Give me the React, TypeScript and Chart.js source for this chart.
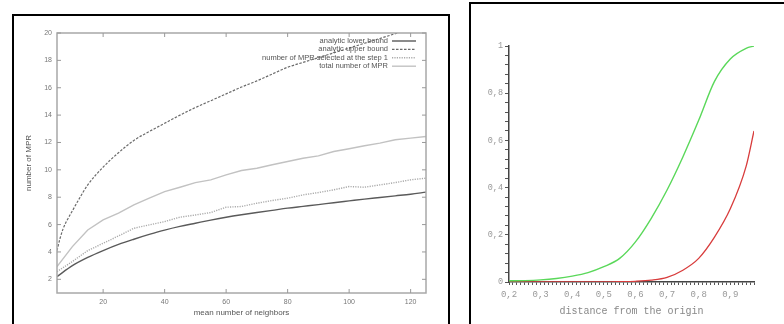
import React, { useEffect, useRef } from "react";
import { Chart, registerables } from "chart.js";
Chart.register(...registerables);

// ---------- Left chart data ----------
const neighbors = [5, 10, 15, 20, 25, 30, 35, 40, 45, 50, 55, 60, 65, 70, 75, 80, 85, 90, 95, 100, 105, 110, 115, 120, 125];
const lowerBound = [2.2, 3.0, 3.6, 4.1, 4.55, 4.93, 5.28, 5.6, 5.87, 6.1, 6.33, 6.54, 6.72, 6.88, 7.04, 7.2, 7.33, 7.46, 7.6, 7.73, 7.86, 7.98, 8.1, 8.22, 8.37];
const upperNeighbors = [5, 6, 7, 8, 10, 12, 15, 20, 25, 30, 35, 40, 45, 50, 55, 60, 65, 70, 75, 80, 85, 90, 95, 100, 105, 110, 115, 120, 125];
const upperBound = [4.1, 5.0, 5.7, 6.2, 7.0, 7.8, 8.9, 10.2, 11.25, 12.15, 12.8, 13.4, 14.0, 14.55, 15.05, 15.55, 16.05, 16.5, 17.0, 17.5, 17.85, 18.2, 18.55, 18.9, 19.25, 19.6, 19.95, 20.3, 20.6];
const step1Mpr = [2.56, 3.3, 4.1, 4.63, 5.17, 5.73, 5.98, 6.22, 6.54, 6.7, 6.88, 7.27, 7.32, 7.56, 7.76, 7.93, 8.17, 8.34, 8.54, 8.78, 8.73, 8.9, 9.07, 9.27, 9.39];
const totalMpr = [2.93, 4.39, 5.61, 6.34, 6.83, 7.44, 7.93, 8.41, 8.73, 9.07, 9.27, 9.63, 9.95, 10.12, 10.37, 10.61, 10.85, 11.02, 11.34, 11.54, 11.76, 11.95, 12.2, 12.32, 12.44];
const leftXTicks = [20, 40, 60, 80, 100, 120];
const leftYTicks = [2, 4, 6, 8, 10, 12, 14, 16, 18, 20];
const leftLabels = ["analytic lower bound", "analytic upper bound", "number of MPR selected at the step 1", "total number of MPR"];

// ---------- Right chart data ----------
const distance = [0.2, 0.25, 0.3, 0.35, 0.4, 0.45, 0.5, 0.55, 0.6, 0.65, 0.7, 0.75, 0.8, 0.85, 0.9, 0.95, 0.975];
const greenCurve = [0.005, 0.006, 0.009, 0.015, 0.025, 0.04, 0.065, 0.1, 0.17, 0.27, 0.39, 0.53, 0.685, 0.85, 0.945, 0.99, 1.0];
const redCurve = [0, 0, 0, 0, 0, 0, 0, 0.001, 0.003, 0.008, 0.02, 0.05, 0.1, 0.19, 0.31, 0.49, 0.64];
const rightXMajor = [0.2, 0.3, 0.4, 0.5, 0.6, 0.7, 0.8, 0.9];
const rightXLabels = ["0,2", "0,3", "0,4", "0,5", "0,6", "0,7", "0,8", "0,9"];
const rightYMajor = [0, 0.2, 0.4, 0.6, 0.8, 1];
const rightYLabels = ["0", "0,2", "0,4", "0,6", "0,8", "1"];
const rightXMinorStep = 0.0125;
const rightYMinorStep = 0.04;

const pts = (xs: number[], ys: number[]) => xs.map((x, i) => ({ x, y: ys[i] }));

const frameTicksPlugin = {
  id: "frameTicks",
  afterDatasetsDraw(chart: any) {
    const { ctx, chartArea: a, scales } = chart;
    ctx.save();
    ctx.strokeStyle = "#a8a8a8";
    ctx.lineWidth = 1.5;
    ctx.strokeRect(a.left, a.top, a.right - a.left, a.bottom - a.top);
    ctx.lineWidth = 1;
    ctx.strokeStyle = "#999";
    const L = 4;
    ctx.beginPath();
    scales.x.ticks.forEach((t: any) => {
      const px = scales.x.getPixelForValue(t.value);
      ctx.moveTo(px, a.bottom); ctx.lineTo(px, a.bottom - L);
      ctx.moveTo(px, a.top); ctx.lineTo(px, a.top + L);
    });
    scales.y.ticks.forEach((t: any) => {
      const py = scales.y.getPixelForValue(t.value);
      ctx.moveTo(a.left, py); ctx.lineTo(a.left + L, py);
      ctx.moveTo(a.right, py); ctx.lineTo(a.right - L, py);
    });
    ctx.stroke();
    ctx.restore();
  },
  afterDraw(chart: any) {
    const { ctx, chartArea: a } = chart;
    ctx.save();
    ctx.font = "7.5px 'Liberation Sans', Arial, sans-serif";
    ctx.textAlign = "right";
    ctx.textBaseline = "middle";
    chart.data.datasets.forEach((ds: any, i: number) => {
      const y = a.top + 8 + i * 8.4;
      const textRight = a.right - 38;
      ctx.fillStyle = "#555";
      ctx.fillText(ds.label, textRight, y);
      ctx.beginPath();
      ctx.strokeStyle = ds.borderColor;
      ctx.lineWidth = ds.borderWidth;
      ctx.setLineDash(ds.borderDash || []);
      ctx.moveTo(textRight + 4, y);
      ctx.lineTo(textRight + 28, y);
      ctx.stroke();
    });
    ctx.restore();
  },
};

function LeftChart() {
  const ref = useRef<HTMLCanvasElement>(null);
  useEffect(() => {
    const chart = new Chart(ref.current!, {
      type: "line",
      data: {
        datasets: [
          { label: leftLabels[0], data: pts(neighbors, lowerBound), borderColor: "#5a5a5a", borderWidth: 1.4, pointRadius: 0, cubicInterpolationMode: "monotone" },
          { label: leftLabels[1], data: pts(upperNeighbors, upperBound), borderColor: "#6a6a6a", borderWidth: 1.2, borderDash: [2.5, 1.5], pointRadius: 0, cubicInterpolationMode: "monotone" },
          { label: leftLabels[2], data: pts(neighbors, step1Mpr), borderColor: "#aaaaaa", borderWidth: 1.4, borderDash: [1.2, 1.2], pointRadius: 0, tension: 0 },
          { label: leftLabels[3], data: pts(neighbors, totalMpr), borderColor: "#c2c2c2", borderWidth: 1.4, pointRadius: 0, tension: 0 },
        ] as any,
      },
      options: {
        animation: false,
        responsive: false,
        layout: { padding: { top: 17, right: 22, left: 0, bottom: 0 } },
        plugins: { legend: { display: false }, tooltip: { enabled: false } },
        scales: {
          x: {
            type: "linear", min: 5, max: 125,
            afterBuildTicks: (s: any) => { s.ticks = leftXTicks.map((v) => ({ value: v })); },
            afterFit: (s: any) => { s.height = 31; },
            grid: { display: false, drawTicks: false },
            border: { display: false },
            ticks: { padding: 5, color: "#777", font: { family: "'Liberation Sans', Arial", size: 7 }, maxRotation: 0, autoSkip: false },
            title: { display: true, text: "mean number of neighbors", color: "#555", font: { family: "'Liberation Sans', Arial", size: 8 }, padding: { top: 0, bottom: 6 } },
          },
          y: {
            type: "linear", min: 1, max: 20,
            afterBuildTicks: (s: any) => { s.ticks = leftYTicks.map((v) => ({ value: v })); },
            afterFit: (s: any) => { s.width = 43; },
            grid: { display: false, drawTicks: false },
            border: { display: false },
            ticks: { padding: 5, color: "#777", font: { family: "'Liberation Sans', Arial", size: 7 }, autoSkip: false },
            title: { display: true, text: "number of MPR", color: "#555", font: { family: "'Liberation Sans', Arial", size: 8 }, padding: { top: 10, bottom: 0 } },
          },
        },
      } as any,
      plugins: [frameTicksPlugin],
    });
    return () => chart.destroy();
  }, []);
  return <canvas ref={ref} width={434} height={308} style={{ position: "absolute", left: 14, top: 16, width: 434, height: 308 }} />;
}

const near = (a: number, b: number) => Math.abs(a - b) < 1e-6;

function RightChart() {
  const ref = useRef<HTMLCanvasElement>(null);
  useEffect(() => {
    const chart = new Chart(ref.current!, {
      type: "line",
      data: {
        datasets: [
          { label: "green", data: pts(distance, greenCurve), borderColor: "#5ad85a", borderWidth: 1.4, pointRadius: 0, cubicInterpolationMode: "monotone" },
          { label: "red", data: pts(distance, redCurve), borderColor: "#d83c3c", borderWidth: 1.3, pointRadius: 0, cubicInterpolationMode: "monotone" },
        ] as any,
      },
      options: {
        animation: false,
        responsive: false,
        layout: { padding: { top: 41, right: 30, left: 0, bottom: 0 } },
        plugins: { legend: { display: false }, tooltip: { enabled: false } },
        scales: {
          x: {
            type: "linear", min: 0.2, max: 0.975,
            afterBuildTicks: (s: any) => {
              const n = Math.round((0.975 - 0.2) / rightXMinorStep);
              s.ticks = Array.from({ length: n + 1 }, (_, i) => ({ value: 0.2 + i * rightXMinorStep }));
            },
            afterFit: (s: any) => { s.height = 42; },
            grid: { display: true, drawOnChartArea: false, drawTicks: true, tickLength: 3, color: "#555", lineWidth: 1 },
            border: { display: true, color: "#444", width: 1.5 },
            ticks: {
              padding: 4, color: "#999", autoSkip: false, maxRotation: 0,
              font: { family: "'Liberation Mono', 'DejaVu Sans Mono', monospace", size: 9 },
              callback: (v: any) => { const i = rightXMajor.findIndex((m) => near(m, v)); return i >= 0 ? rightXLabels[i] : ""; },
            },
            title: { display: true, text: "distance from the origin", color: "#888", font: { family: "'Liberation Mono', 'DejaVu Sans Mono', monospace", size: 10 }, padding: { top: 0, bottom: 7 } },
          },
          y: {
            type: "linear", min: 0, max: 1,
            afterBuildTicks: (s: any) => {
              const n = Math.round(1 / rightYMinorStep);
              s.ticks = Array.from({ length: n + 1 }, (_, i) => ({ value: i * rightYMinorStep }));
            },
            afterFit: (s: any) => { s.width = 37; },
            grid: { display: true, drawOnChartArea: false, drawTicks: true, tickLength: 4, color: "#555", lineWidth: 1 },
            border: { display: true, color: "#444", width: 1.5 },
            ticks: {
              padding: 2, color: "#999", autoSkip: false,
              font: { family: "'Liberation Mono', 'DejaVu Sans Mono', monospace", size: 8.5 },
              callback: (v: any) => { const i = rightYMajor.findIndex((m) => near(m, v)); return i >= 0 ? rightYLabels[i] : ""; },
            },
          },
        },
      } as any,
    });
    return () => chart.destroy();
  }, []);
  return <canvas ref={ref} width={312} height={319} style={{ position: "absolute", left: 472, top: 5, width: 312, height: 319 }} />;
}

export default function App() {
  return (
    <div style={{ position: "fixed", left: 0, top: 0, width: 784, height: 324, overflow: "hidden", background: "#fff" }}>
      <div style={{ position: "absolute", left: 12, top: 14, width: 434, height: 330, border: "2px solid #000" }} />
      <div style={{ position: "absolute", left: 469, top: 2, width: 340, height: 340, border: "2px solid #000" }} />
      <LeftChart />
      <RightChart />
    </div>
  );
}
